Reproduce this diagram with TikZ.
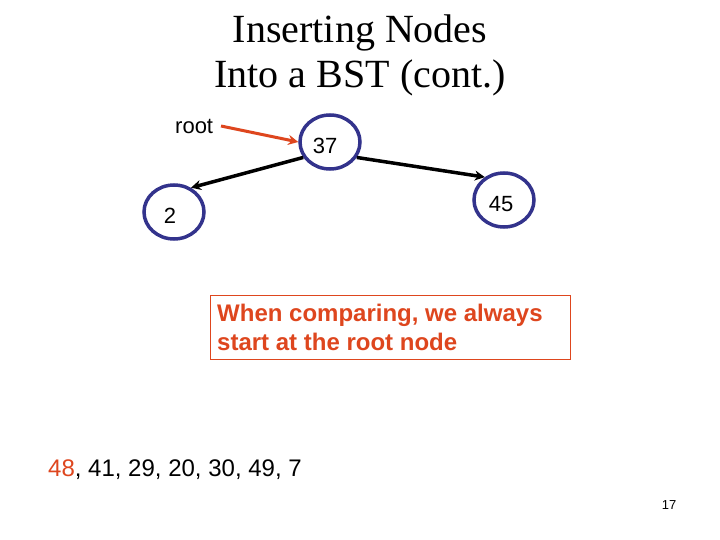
\documentclass[tikz,border=0pt]{standalone}
\usepackage{fontspec}
\setmainfont{Liberation Sans}
\newfontfamily\titlefont{Liberation Serif}
\usetikzlibrary{arrows.meta,shapes.geometric}
\definecolor{nodeblue}{RGB}{51,51,140}
\definecolor{hiorange}{RGB}{222,70,30}
\tikzset{
  bst/.style={ellipse,draw=nodeblue,line width=3.5pt,minimum width=60pt,minimum height=54pt,inner sep=0pt,font=\fontsize{24}{28}\selectfont},
  edge/.style={line width=3.5pt,-{Stealth[length=10pt,width=10pt]}},
  txt/.style={inner sep=0pt,anchor=base west,font=\fontsize{24}{28}\selectfont}
}
\begin{document}
\begin{tikzpicture}[x=1pt,y=-1pt]
\useasboundingbox[fill=white] (0,0) rectangle (720,540);
\node[inner sep=0pt,anchor=base,font=\titlefont\fontsize{40}{45}\selectfont] (t1) at (360,43) {Inserting Nodes};
\node[inner sep=0pt,anchor=base,font=\titlefont\fontsize{40}{45}\selectfont] (t2) at (360,88) {Into a BST (cont.)};
\node[bst] (n37) at (330,142) {};
\node[inner sep=0pt,font=\fontsize{22}{26}\selectfont] (l37) at (325,146) {37};
\node[bst] (n2) at (174,212) {};
\node[inner sep=0pt,font=\fontsize{22}{26}\selectfont] (l2) at (170,216) {2};
\node[bst] (n45) at (504,200) {};
\node[inner sep=0pt,font=\fontsize{22}{26}\selectfont] (l45) at (501,204) {45};
\node[txt,font=\fontsize{22}{26}\selectfont] (root) at (175,134) {root};
\coordinate (rs) at (221,126);
\draw[edge,draw=hiorange,line width=3pt] (rs) -- (n37.west);
\draw[edge] (n37.210) -- (n2.55);
\draw[edge] (n37.-30) -- (n45.130);
\node[draw=hiorange,line width=1pt,minimum width=360pt,minimum height=64pt,anchor=north west,inner sep=0pt] (box) at (210,295) {};
\node[txt,text=hiorange,font=\bfseries\fontsize{24}{28}\selectfont] (b1) at (217,321) {When comparing, we always};
\node[txt,text=hiorange,font=\bfseries\fontsize{24}{28}\selectfont] (b2) at (217,350) {start at the root node};
\node[txt] (seq) at (48,476) {\textcolor{hiorange}{48}, 41, 29, 20, 30, 49, 7};
\node[inner sep=0pt,anchor=base,font=\fontsize{13}{15}\selectfont] (pg) at (669,509) {17};
\end{tikzpicture}
\end{document}
